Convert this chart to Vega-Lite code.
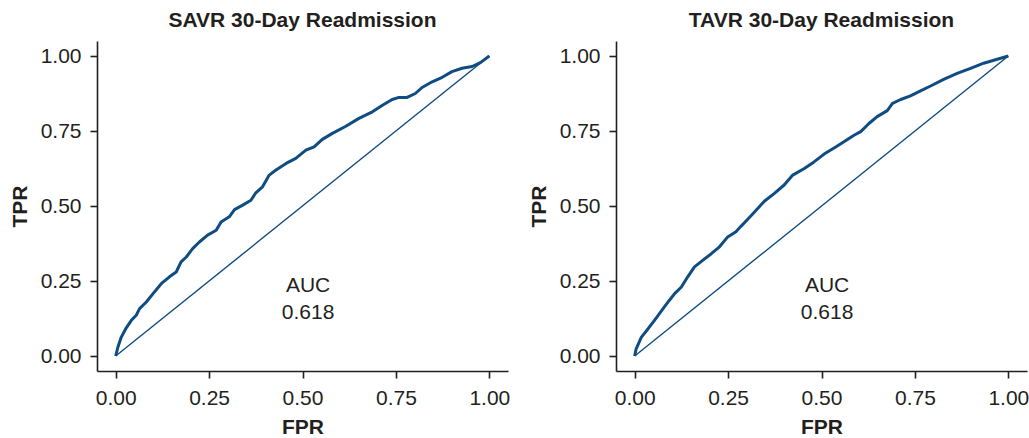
{
  "$schema": "https://vega.github.io/schema/vega-lite/v6.json",
  "padding": {"left": 9, "top": 10, "right": 0, "bottom": 0},
  "background": "white",
  "config": {
    "view": {"stroke": null},
    "font": "Liberation Sans",
    "axis": {
      "grid": false,
      "domainColor": "#231f20",
      "domainWidth": 1.6,
      "tickColor": "#231f20",
      "tickWidth": 1.6,
      "tickSize": 7,
      "labelFont": "Liberation Sans",
      "labelFontSize": 21,
      "labelColor": "#231f20",
      "labelPadding": 9,
      "titleFont": "Liberation Sans",
      "titleFontSize": 21,
      "titleFontWeight": "bold",
      "titleColor": "#231f20"
    },
    "axisX": {"titlePadding": 8},
    "title": {"font": "Liberation Sans", "fontSize": 21, "fontWeight": "bold", "color": "#231f20", "offset": 10}
  },
  "datasets": {
    "roc": [
      {"panel": "SAVR", "fpr": 0, "tpr": 0},
      {"panel": "SAVR", "fpr": 0.006, "tpr": 0.03},
      {"panel": "SAVR", "fpr": 0.015, "tpr": 0.063},
      {"panel": "SAVR", "fpr": 0.027, "tpr": 0.091},
      {"panel": "SAVR", "fpr": 0.042, "tpr": 0.119},
      {"panel": "SAVR", "fpr": 0.055, "tpr": 0.136},
      {"panel": "SAVR", "fpr": 0.064, "tpr": 0.158},
      {"panel": "SAVR", "fpr": 0.082, "tpr": 0.18},
      {"panel": "SAVR", "fpr": 0.1, "tpr": 0.208},
      {"panel": "SAVR", "fpr": 0.122, "tpr": 0.241},
      {"panel": "SAVR", "fpr": 0.144, "tpr": 0.264},
      {"panel": "SAVR", "fpr": 0.162, "tpr": 0.28},
      {"panel": "SAVR", "fpr": 0.175, "tpr": 0.314},
      {"panel": "SAVR", "fpr": 0.189, "tpr": 0.33},
      {"panel": "SAVR", "fpr": 0.206, "tpr": 0.358},
      {"panel": "SAVR", "fpr": 0.224, "tpr": 0.38},
      {"panel": "SAVR", "fpr": 0.246, "tpr": 0.403},
      {"panel": "SAVR", "fpr": 0.269, "tpr": 0.419},
      {"panel": "SAVR", "fpr": 0.282, "tpr": 0.447},
      {"panel": "SAVR", "fpr": 0.304, "tpr": 0.464},
      {"panel": "SAVR", "fpr": 0.318, "tpr": 0.488},
      {"panel": "SAVR", "fpr": 0.34, "tpr": 0.503},
      {"panel": "SAVR", "fpr": 0.362, "tpr": 0.519},
      {"panel": "SAVR", "fpr": 0.375, "tpr": 0.544},
      {"panel": "SAVR", "fpr": 0.393, "tpr": 0.564},
      {"panel": "SAVR", "fpr": 0.411, "tpr": 0.603},
      {"panel": "SAVR", "fpr": 0.429, "tpr": 0.62},
      {"panel": "SAVR", "fpr": 0.456, "tpr": 0.642},
      {"panel": "SAVR", "fpr": 0.482, "tpr": 0.659},
      {"panel": "SAVR", "fpr": 0.509, "tpr": 0.686},
      {"panel": "SAVR", "fpr": 0.531, "tpr": 0.697},
      {"panel": "SAVR", "fpr": 0.553, "tpr": 0.722},
      {"panel": "SAVR", "fpr": 0.58, "tpr": 0.742},
      {"panel": "SAVR", "fpr": 0.616, "tpr": 0.766},
      {"panel": "SAVR", "fpr": 0.651, "tpr": 0.792},
      {"panel": "SAVR", "fpr": 0.687, "tpr": 0.814},
      {"panel": "SAVR", "fpr": 0.714, "tpr": 0.836},
      {"panel": "SAVR", "fpr": 0.74, "tpr": 0.855},
      {"panel": "SAVR", "fpr": 0.758, "tpr": 0.862},
      {"panel": "SAVR", "fpr": 0.78, "tpr": 0.862},
      {"panel": "SAVR", "fpr": 0.802, "tpr": 0.875},
      {"panel": "SAVR", "fpr": 0.82, "tpr": 0.895},
      {"panel": "SAVR", "fpr": 0.847, "tpr": 0.914},
      {"panel": "SAVR", "fpr": 0.874, "tpr": 0.929},
      {"panel": "SAVR", "fpr": 0.9, "tpr": 0.948},
      {"panel": "SAVR", "fpr": 0.927, "tpr": 0.959},
      {"panel": "SAVR", "fpr": 0.954, "tpr": 0.965},
      {"panel": "SAVR", "fpr": 0.976, "tpr": 0.978},
      {"panel": "SAVR", "fpr": 1, "tpr": 1},
      {"panel": "TAVR", "fpr": 0, "tpr": 0},
      {"panel": "TAVR", "fpr": 0.004, "tpr": 0.024},
      {"panel": "TAVR", "fpr": 0.018, "tpr": 0.063},
      {"panel": "TAVR", "fpr": 0.036, "tpr": 0.091},
      {"panel": "TAVR", "fpr": 0.053, "tpr": 0.119},
      {"panel": "TAVR", "fpr": 0.076, "tpr": 0.158},
      {"panel": "TAVR", "fpr": 0.093, "tpr": 0.186},
      {"panel": "TAVR", "fpr": 0.107, "tpr": 0.208},
      {"panel": "TAVR", "fpr": 0.125, "tpr": 0.23},
      {"panel": "TAVR", "fpr": 0.142, "tpr": 0.264},
      {"panel": "TAVR", "fpr": 0.16, "tpr": 0.297},
      {"panel": "TAVR", "fpr": 0.182, "tpr": 0.319},
      {"panel": "TAVR", "fpr": 0.205, "tpr": 0.341},
      {"panel": "TAVR", "fpr": 0.227, "tpr": 0.364},
      {"panel": "TAVR", "fpr": 0.249, "tpr": 0.397},
      {"panel": "TAVR", "fpr": 0.271, "tpr": 0.414},
      {"panel": "TAVR", "fpr": 0.285, "tpr": 0.433},
      {"panel": "TAVR", "fpr": 0.302, "tpr": 0.455},
      {"panel": "TAVR", "fpr": 0.325, "tpr": 0.486},
      {"panel": "TAVR", "fpr": 0.347, "tpr": 0.516},
      {"panel": "TAVR", "fpr": 0.374, "tpr": 0.542},
      {"panel": "TAVR", "fpr": 0.4, "tpr": 0.57},
      {"panel": "TAVR", "fpr": 0.423, "tpr": 0.603},
      {"panel": "TAVR", "fpr": 0.454, "tpr": 0.625},
      {"panel": "TAVR", "fpr": 0.48, "tpr": 0.647},
      {"panel": "TAVR", "fpr": 0.507, "tpr": 0.673},
      {"panel": "TAVR", "fpr": 0.538, "tpr": 0.697},
      {"panel": "TAVR", "fpr": 0.56, "tpr": 0.714},
      {"panel": "TAVR", "fpr": 0.587, "tpr": 0.736},
      {"panel": "TAVR", "fpr": 0.605, "tpr": 0.748},
      {"panel": "TAVR", "fpr": 0.627, "tpr": 0.775},
      {"panel": "TAVR", "fpr": 0.649, "tpr": 0.798},
      {"panel": "TAVR", "fpr": 0.676, "tpr": 0.818},
      {"panel": "TAVR", "fpr": 0.69, "tpr": 0.842},
      {"panel": "TAVR", "fpr": 0.712, "tpr": 0.855},
      {"panel": "TAVR", "fpr": 0.738, "tpr": 0.867},
      {"panel": "TAVR", "fpr": 0.765, "tpr": 0.884},
      {"panel": "TAVR", "fpr": 0.792, "tpr": 0.9},
      {"panel": "TAVR", "fpr": 0.827, "tpr": 0.922},
      {"panel": "TAVR", "fpr": 0.863, "tpr": 0.942},
      {"panel": "TAVR", "fpr": 0.899, "tpr": 0.959},
      {"panel": "TAVR", "fpr": 0.934, "tpr": 0.976},
      {"panel": "TAVR", "fpr": 1, "tpr": 1}
    ],
    "diag": [
      {"panel": "SAVR", "fpr": 0, "tpr": 0},
      {"panel": "SAVR", "fpr": 1, "tpr": 1},
      {"panel": "TAVR", "fpr": 0, "tpr": 0},
      {"panel": "TAVR", "fpr": 1, "tpr": 1}
    ],
    "auc": [
      {"panel": "SAVR", "x": 0.515, "y": 0.232, "label": "AUC"},
      {"panel": "SAVR", "x": 0.515, "y": 0.145, "label": "0.618"},
      {"panel": "TAVR", "x": 0.515, "y": 0.232, "label": "AUC"},
      {"panel": "TAVR", "x": 0.515, "y": 0.145, "label": "0.618"}
    ]
  },
  "spacing": 18,
  "hconcat": [
    {
      "title": "SAVR 30-Day Readmission",
      "width": 411,
      "height": 330,
      "layer": [
        {
          "data": {"name": "diag"},
          "transform": [{"filter": "datum.panel === 'SAVR'"}],
          "mark": {"type": "line", "color": "#0f4c81", "strokeWidth": 1.4},
          "encoding": {
            "x": {"field": "fpr", "type": "quantitative", "scale": {"domain": [-0.05, 1.05], "nice": false, "zero": false}, "axis": {"values": [0, 0.25, 0.5, 0.75, 1], "format": ".2f", "title": "FPR"}},
            "y": {"field": "tpr", "type": "quantitative", "scale": {"domain": [-0.05, 1.05], "nice": false, "zero": false}, "axis": {"values": [0, 0.25, 0.5, 0.75, 1], "format": ".2f", "title": "TPR", "titlePadding": 10}}
          }
        },
        {
          "data": {"name": "roc"},
          "transform": [{"filter": "datum.panel === 'SAVR'"}],
          "mark": {"type": "line", "color": "#0f4c81", "strokeWidth": 3, "strokeJoin": "round"},
          "encoding": {
            "x": {"field": "fpr", "type": "quantitative"},
            "y": {"field": "tpr", "type": "quantitative"}
          }
        },
        {
          "data": {"name": "auc"},
          "transform": [{"filter": "datum.panel === 'SAVR'"}],
          "mark": {"type": "text", "fontSize": 21, "color": "#231f20", "baseline": "middle", "align": "center"},
          "encoding": {
            "x": {"field": "x", "type": "quantitative"},
            "y": {"field": "y", "type": "quantitative"},
            "text": {"field": "label"}
          }
        }
      ]
    },
    {
      "title": "TAVR 30-Day Readmission",
      "width": 411,
      "height": 330,
      "layer": [
        {
          "data": {"name": "diag"},
          "transform": [{"filter": "datum.panel === 'TAVR'"}],
          "mark": {"type": "line", "color": "#0f4c81", "strokeWidth": 1.4},
          "encoding": {
            "x": {"field": "fpr", "type": "quantitative", "scale": {"domain": [-0.05, 1.05], "nice": false, "zero": false}, "axis": {"values": [0, 0.25, 0.5, 0.75, 1], "format": ".2f", "title": "FPR"}},
            "y": {"field": "tpr", "type": "quantitative", "scale": {"domain": [-0.05, 1.05], "nice": false, "zero": false}, "axis": {"values": [0, 0.25, 0.5, 0.75, 1], "format": ".2f", "title": "TPR", "titlePadding": 10}}
          }
        },
        {
          "data": {"name": "roc"},
          "transform": [{"filter": "datum.panel === 'TAVR'"}],
          "mark": {"type": "line", "color": "#0f4c81", "strokeWidth": 3, "strokeJoin": "round"},
          "encoding": {
            "x": {"field": "fpr", "type": "quantitative"},
            "y": {"field": "tpr", "type": "quantitative"}
          }
        },
        {
          "data": {"name": "auc"},
          "transform": [{"filter": "datum.panel === 'TAVR'"}],
          "mark": {"type": "text", "fontSize": 21, "color": "#231f20", "baseline": "middle", "align": "center"},
          "encoding": {
            "x": {"field": "x", "type": "quantitative"},
            "y": {"field": "y", "type": "quantitative"},
            "text": {"field": "label"}
          }
        }
      ]
    }
  ]
}
